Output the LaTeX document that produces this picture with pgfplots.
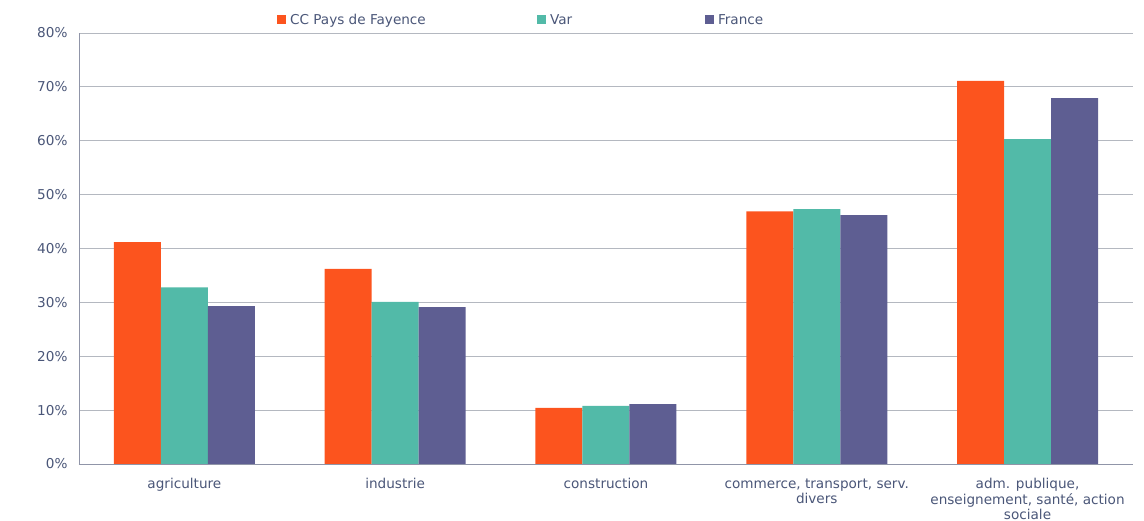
\documentclass[border=0pt]{standalone}
\usepackage{pgfplots}
\pgfplotsset{compat=1.18}
\usepackage{fontspec}
\setmainfont{DejaVu Sans}
\definecolor{cOrange}{HTML}{FC541E}
\definecolor{cTeal}{HTML}{52BAA8}
\definecolor{cPurple}{HTML}{5E5E92}
\definecolor{cText}{HTML}{4A5678}
\definecolor{cGrid}{HTML}{B4B8C0}
\definecolor{cAxis}{HTML}{9095A8}
\begin{document}
\begin{tikzpicture}[font=\fontsize{13.6}{16}\selectfont]
\path[use as bounding box] (-79pt,-57pt) rectangle (1065pt,464pt);
\begin{axis}[
  at={(0,0)}, anchor=south west,
  scale only axis, width=1054pt, height=431pt,
  ybar=0pt, bar width=47pt,
  xmin=-0.5, xmax=4.5, ymin=0, ymax=80,
  axis x line*=bottom, axis y line*=left,
  axis line style={cAxis, line width=0.9pt, -},
  ymajorgrids, major grid style={cGrid, line width=0.9pt},
  major tick length=0pt,
  xtick={0,1,2,3,4},
  xticklabels={agriculture, industrie, construction, {commerce, transport, serv.\\divers}, {adm. publique,\\enseignement, santé, action\\sociale}},
  xticklabel style={align=center, text=cText, yshift=-11pt, font=\fontsize{13.6}{15.5}\selectfont},
  ytick={0,10,...,80},
  yticklabels={0\%,10\%,20\%,30\%,40\%,50\%,60\%,70\%,80\%},
  yticklabel style={text=cText, xshift=-8pt},
  legend columns=3,
  legend style={at={(0.1879,1.0302)}, anchor=west, draw=none, fill=none, inner sep=0pt, outer sep=0pt,
    nodes={inner sep=0pt, text=cText},
    /tikz/every odd column/.append style={column sep=4pt},
    /tikz/every even column/.append style={column sep=0pt}},
  legend image code/.code={\fill[#1] (0pt,-4.5pt) rectangle (9pt,4.5pt);},
]
\addplot[fill=cOrange, draw=none] coordinates {(0,41.2) (1,36.2) (2,10.4) (3,46.9) (4,71.1)};
\addplot[fill=cTeal, draw=none] coordinates {(0,32.8) (1,30.1) (2,10.8) (3,47.3) (4,60.3)};
\addplot[fill=cPurple, draw=none] coordinates {(0,29.3) (1,29.1) (2,11.1) (3,46.2) (4,67.9)};
\legend{\makebox[247pt][l]{CC Pays de Fayence}, \makebox[155pt][l]{Var}, France}
\end{axis}
\end{tikzpicture}
\end{document}
